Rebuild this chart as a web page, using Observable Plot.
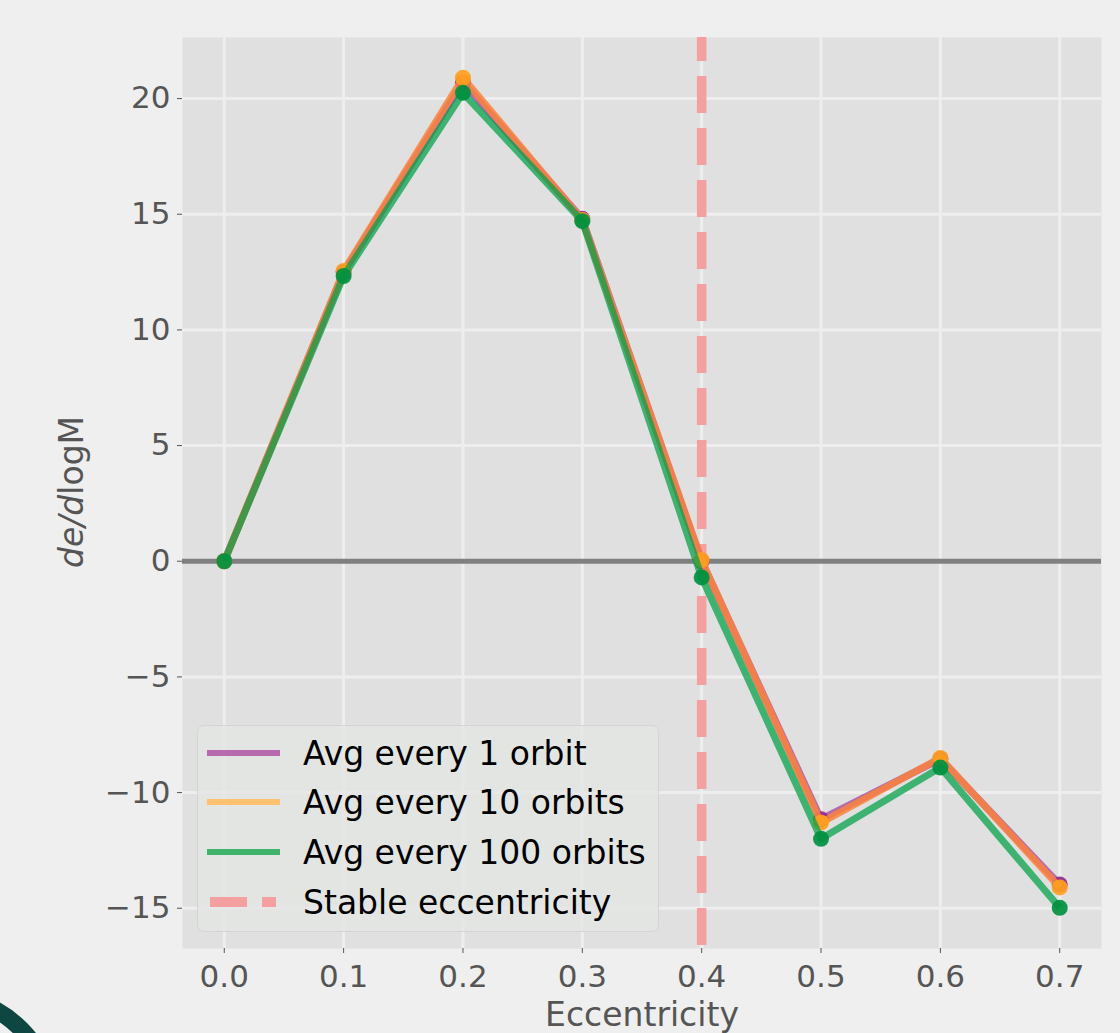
<!DOCTYPE html>
<html>
<head>
<meta charset="utf-8">
<script src="https://cdn.jsdelivr.net/npm/d3@7"></script>
<script src="https://cdn.jsdelivr.net/npm/@observablehq/plot@0.6"></script>
<style>
html, body { margin: 0; padding: 0; background: #efefef; overflow: hidden; }
#wrap { position: relative; width: 1120px; height: 1033px; font-family: "DejaVu Sans", sans-serif; overflow: hidden; }
#legend { position: absolute; left: 197px; top: 725px; width: 462px; height: 207px; background: rgba(228,229,228,0.85); border: 1px solid #d3d4d3; border-radius: 7px; box-sizing: border-box; }
.row { position: absolute; left: 0; height: 50px; width: 100%; }
.row svg { position: absolute; left: 8px; top: 0; }
.row span { position: absolute; left: 105px; top: 50%; transform: translateY(-50%); font-size: 33px; color: #000; white-space: nowrap; line-height: 1; }
#deco { position: absolute; left: -183px; top: 987px; width: 246px; height: 246px; border: 17px solid #0e4741; border-radius: 50%; box-sizing: border-box; }
</style>
</head>
<body>
<div id="wrap"><div id="chart"></div><div id="legend"></div><div id="deco"></div></div>
<script>
// ---- data ----
const eccentricity = [0.0, 0.1, 0.2, 0.3, 0.4, 0.5, 0.6, 0.7];
const avgEvery1 = [0, 12.5, 20.7, 14.8, 0.0, -11.15, -8.55, -13.97];
const avgEvery10 = [0, 12.55, 20.9, 14.75, 0.05, -11.3, -8.5, -14.1];
const avgEvery100 = [0, 12.33, 20.25, 14.7, -0.7, -12.0, -8.92, -14.98];
const seriesNames = ["Avg every 1 orbit", "Avg every 10 orbits", "Avg every 100 orbits"];
const stableName = "Stable eccentricity";
const stableEccentricity = [0.4];
const zeroLine = [0];
const xTicks = [0.0, 0.1, 0.2, 0.3, 0.4, 0.5, 0.6, 0.7];
const yTicks = [-15, -10, -5, 0, 5, 10, 15, 20];
const xLabel = "Eccentricity";

// ---- styles ----
const lineColors = ["#a4449e", "#fa823c", "#00a046"];
const lineOpacity = [0.75, 0.85, 0.72];
const dotColors = ["#922a8f", "#ffa020", "#00903f"];
const legendColors = ["#b86aae", "#fdc170", "#40b46c"];
const stableColor = "#f4a0a0";

const allSeries = [avgEvery1, avgEvery10, avgEvery100];
const seriesMarks = allSeries.flatMap((vals, k) => {
  const rows = eccentricity.map((e, i) => ({e, v: vals[i]}));
  return [
    Plot.line(rows, {x: "e", y: "v", stroke: lineColors[k], strokeWidth: 7, strokeOpacity: lineOpacity[k], strokeLinejoin: "round", strokeLinecap: "butt"}),
    Plot.dot(rows, {x: "e", y: "v", r: 8, fill: dotColors[k], fillOpacity: 0.92, stroke: null})
  ];
});

const chart = Plot.plot({
  width: 1120,
  height: 1033,
  marginLeft: 182,
  marginRight: 19,
  marginTop: 37,
  marginBottom: 85,
  style: {background: "#efefef", fontFamily: "DejaVu Sans, sans-serif"},
  x: {domain: [-0.035, 0.735]},
  y: {domain: [-16.74, 22.64]},
  marks: [
    Plot.frame({fill: "#dfe0df", stroke: "none"}),
    Plot.gridX(xTicks, {stroke: "#eeeeee", strokeOpacity: 1, strokeWidth: 3}),
    Plot.gridY(yTicks, {stroke: "#eeeeee", strokeOpacity: 1, strokeWidth: 3}),
    Plot.axisX(xTicks, {tickFormat: d3.format(".1f"), tickSize: 5, tickPadding: 11, fontSize: 31, color: "#555", label: null}),
    Plot.axisY(yTicks, {tickSize: 5, tickPadding: 7, fontSize: 31, color: "#555", label: null}),
    Plot.ruleX(stableEccentricity, {stroke: stableColor, strokeWidth: 9.5, strokeDasharray: "37,15", strokeDashoffset: 13}),
    Plot.ruleY(zeroLine, {stroke: "#808080", strokeWidth: 5}),
    ...seriesMarks,
    Plot.text([xLabel], {frameAnchor: "bottom", dy: 77, fontSize: 33, fill: "#555"})
  ]
});
document.getElementById("chart").appendChild(chart);

// y label with mixed italic
const svg = d3.select(chart);
const yl = svg.append("text")
  .attr("transform", "translate(83,492) rotate(-90)")
  .attr("text-anchor", "middle")
  .attr("font-size", 33)
  .attr("fill", "#555")
  .attr("font-family", "DejaVu Sans, sans-serif");
yl.append("tspan").attr("font-style", "italic").text("de/d");
yl.append("tspan").text("logM");

// legend
const legend = d3.select("#legend");
const rowCenters = [27, 76, 126, 176];
seriesNames.forEach((name, k) => {
  const row = legend.append("div").attr("class", "row").style("top", (rowCenters[k] - 25) + "px");
  const s = row.append("svg").attr("width", 75).attr("height", 50);
  s.append("line").attr("x1", 1).attr("x2", 74).attr("y1", 25).attr("y2", 25).attr("stroke", legendColors[k]).attr("stroke-width", 6);
  row.append("span").text(name);
});
{
  const row = legend.append("div").attr("class", "row").style("top", (rowCenters[3] - 25) + "px");
  const s = row.append("svg").attr("width", 75).attr("height", 50);
  s.append("line").attr("x1", 4).attr("x2", 70).attr("y1", 25).attr("y2", 25).attr("stroke", stableColor).attr("stroke-width", 10).attr("stroke-dasharray", "37,15");
  row.append("span").text(stableName);
}
</script>
</body>
</html>
